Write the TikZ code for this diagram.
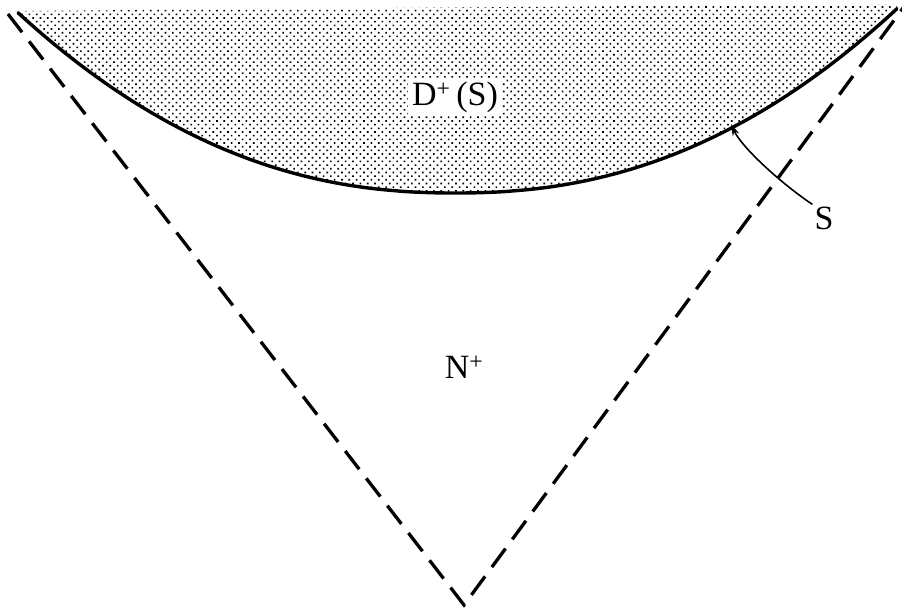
\documentclass[tikz,border=0pt]{standalone}
\usepackage{fontspec}
\setmainfont{Liberation Serif}
\usetikzlibrary{patterns.meta,arrows.meta}
\begin{document}
\begin{tikzpicture}[x=1pt,y=-1pt,
  lbl/.style={font=\fontsize{34}{36}\selectfont, inner sep=2pt},
  cone/.style={line width=3.3pt, dash pattern=on 23pt off 11.5pt},
  surf/.style={line width=3.4pt, line cap=round},
  ptr/.style={line width=1.6pt, -{Stealth[length=12pt,width=7pt]}}]
\useasboundingbox (0,0) rectangle (902,610);
% shaded domain of dependence
\fill[pattern={Dots[distance=5.2pt,radius=1.15pt,angle=45]}, pattern color=black]
  plot[domain=18:897, samples=150] (\x, {193-180*((abs(\x-455.3)/437)^2.22)})
  -- (897,4) -- (18,11) -- cycle;
% surface S
\draw[surf] plot[domain=18:897, samples=150] (\x, {193-180*((abs(\x-455.3)/437)^2.22)});
% null cone
\coordinate (tl) at (8,14);
\coordinate (apex) at (464,605);
\coordinate (tr) at (906,4);
\draw[cone] (tl) -- (apex) -- (tr);
% labels
\node[lbl, fill=white, inner sep=4pt] (dlab) at (455,97) {D\textsuperscript{+}\,(S)};
\node[lbl] (nlab) at (464,367) {N\textsuperscript{+}};
\node[lbl] (slab) at (824,218) {S};
\coordinate (stip) at (731,124);
\draw[ptr] (slab.north west) .. controls (782,184) and (742,148) .. (stip);
\end{tikzpicture}
\end{document}
